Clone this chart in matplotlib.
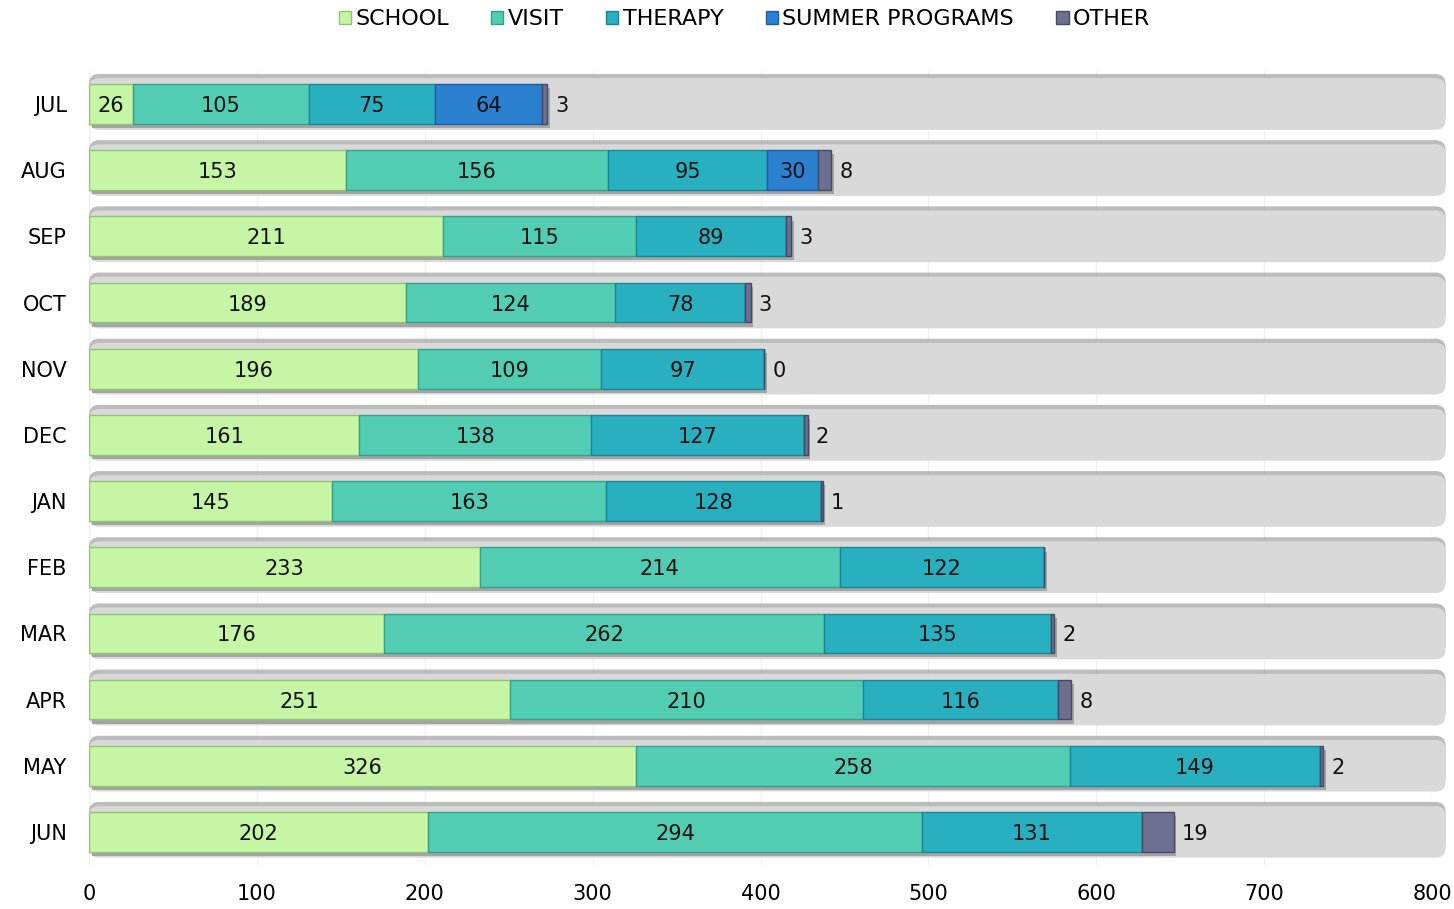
import matplotlib
matplotlib.use("Agg")
import matplotlib.pyplot as plt
import matplotlib.patheffects as pe
from matplotlib.patches import FancyBboxPatch, Patch
import numpy as np

months = ["JUL", "AUG", "SEP", "OCT", "NOV", "DEC", "JAN", "FEB", "MAR", "APR", "MAY", "JUN"]
school = [26, 153, 211, 189, 196, 161, 145, 233, 176, 251, 326, 202]
visit = [105, 156, 115, 124, 109, 138, 163, 214, 262, 210, 258, 294]
therapy = [75, 95, 89, 78, 97, 127, 128, 122, 135, 116, 149, 131]
summer = [64, 30, None, None, None, None, None, None, None, None, None, None]
other = [3, 8, 3, 3, 0, 2, 1, None, 2, 8, 2, 19]
series_names = ["SCHOOL", "VISIT", "THERAPY", "SUMMER PROGRAMS", "OTHER"]
colors = ["#c6f5a6", "#52cdb3", "#29b0c0", "#2b80d0", "#6c7090"]
edge_colors = ["#8fc470", "#33a08a", "#1a8595", "#1c5ea3", "#474a66"]
x_max = 800

plt.rcParams['font.family'] = ['DejaVu Sans']
fig = plt.figure(figsize=(14.54, 9.09), dpi=100)
ax = fig.add_axes([0.0612, 0.0484, 0.9238, 0.8736])

y = np.arange(len(months))
ax.set_ylim(len(months) - 0.5, -0.5)
ax.set_xlim(0, x_max)

# vertical faint grid
for gx in range(0, x_max + 1, 100):
    ax.axvline(gx, color="#f0f0f0", lw=1, zorder=0)

# background track bars (rounded)
bg = ax.barh(y, [x_max] * len(months), height=0.78, color="none")
for r in bg:
    fb = FancyBboxPatch((r.get_x(), r.get_y()), r.get_width() + 8, r.get_height(),
                        boxstyle="round,pad=0,rounding_size=6", mutation_aspect=0.0252,
                        facecolor="#d9d9d9", edgecolor="none", zorder=1, clip_on=False)
    fb.set_path_effects([pe.SimplePatchShadow(offset=(0, 3), shadow_rgbFace="#a0a0a0", alpha=0.7), pe.Normal()])
    ax.add_patch(fb)

vals = [school, visit, therapy, summer, other]
left = np.zeros(len(months))
handles = []
for k, (name, data) in enumerate(zip(series_names, vals)):
    d = np.array([v if v is not None else 0 for v in data], dtype=float)
    bars = ax.barh(y, d, left=left, height=0.6, color=colors[k], edgecolor=edge_colors[k],
                   linewidth=1.0, zorder=3, label=name)
    for b in bars:
        b.set_path_effects([pe.SimplePatchShadow(offset=(2, -3), shadow_rgbFace="#707070", alpha=0.5), pe.Normal()])
    handles.append(Patch(facecolor=colors[k], edgecolor=edge_colors[k], linewidth=1.0))
    for i, v in enumerate(data):
        if v is None:
            continue
        if k < 4:
            ax.text(left[i] + v / 2, y[i] + 0.03, str(v), ha="center", va="center", fontsize=15,
                    color="#111111", zorder=5)
        else:
            ax.annotate(str(v), (left[i] + v, y[i] + 0.03), xytext=(6, 0), textcoords="offset points",
                        ha="left", va="center", fontsize=15, color="#111111", zorder=5)
    left += d

ax.set_yticks(y)
ax.set_yticklabels(months, fontsize=15)
ax.set_xticks(range(0, x_max + 1, 100))
ax.tick_params(axis="x", labelsize=15, length=0, pad=14)
ax.tick_params(axis="y", length=0, pad=16)
for s in ax.spines.values():
    s.set_visible(False)

leg = fig.legend(handles=handles, labels=series_names, loc="upper center", ncol=5,
                 bbox_to_anchor=(0.512, 1.012), frameon=False, fontsize=16,
                 handlelength=0.55, handleheight=0.55, handletextpad=0.2, columnspacing=1.9)

fig.savefig("out.png", dpi=100)
